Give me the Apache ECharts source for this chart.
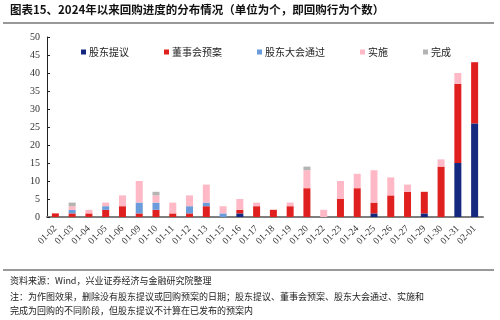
<!DOCTYPE html>
<html><head><meta charset="utf-8">
<script src="https://cdn.jsdelivr.net/npm/echarts@6/dist/echarts.min.js"></script>
<style>html,body{margin:0;padding:0;background:#fff}#c{width:500px;height:320px}</style>
</head><body><div id="c"></div>
<script>
const categories = ['01-02','01-03','01-04','01-05','01-06','01-09','01-10','01-11','01-12','01-13','01-15','01-16','01-17','01-18','01-19','01-20','01-22','01-23','01-24','01-25','01-26','01-27','01-29','01-30','01-31','02-01'];
const shareholderProposal = [0,0,0,0,0,0,0,0,0,0,0,1,0,0,0,0,0,0,0,1,0,0,1,0,15,26];
const boardPlan =           [1,1,1,2,3,1,2,1,1,3,0,1,3,2,3,8,0,5,8,3,6,7,6,14,22,17];
const meetingPassed =       [0,1,0,1,0,3,2,0,2,1,1,0,0,0,0,0,0,0,0,0,0,0,0,0,0,0];
const implementing =        [0,1,1,1,3,6,2,3,3,5,2,3,1,0,1,5,2,5,4,9,5,2,0,2,3,0];
const completed =           [0,1,0,0,0,0,1,0,0,0,0,0,0,0,0,1,0,0,0,0,0,0,0,0,0,0];
const yTicks = [0,5,10,15,20,25,30,35,40,45,50];
const seriesNames = ['股东提议','董事会预案','股东大会通过','实施','完成'];
const colors = ['#14287F','#E0201F','#6A9BDB','#FFB9C6','#B4B4B4'];

const chart = echarts.init(document.getElementById('c'), null, {renderer:'canvas'});
const data = [shareholderProposal, boardPlan, meetingPassed, implementing, completed];
const cjk = '"Liberation Serif","Noto Sans CJK SC",serif';
chart.setOption({
  animation:false,
  color: colors,
  textStyle:{fontFamily:cjk},
  grid:{left:47,right:17,top:37,bottom:103},
  legend:{
    top:42,left:76,itemWidth:5,itemHeight:5,itemGap:35,icon:'rect',
    textStyle:{fontSize:10,color:'#222',fontFamily:'"Noto Sans CJK SC",sans-serif',padding:[0,0,0,-2]},
    data: seriesNames
  },
  xAxis:{
    type:'category',data:categories,
    axisLine:{lineStyle:{color:'#7f7f7f',width:2}},
    axisTick:{show:false},
    axisLabel:{rotate:45,fontSize:9.5,color:'#333',margin:10,interval:0,fontFamily:'"Liberation Serif",serif'}
  },
  yAxis:{
    type:'value',min:yTicks[0],max:yTicks[yTicks.length-1],interval:5,
    splitLine:{show:false},
    axisLine:{show:true,lineStyle:{color:'#222',width:1}},
    axisTick:{show:true,inside:true,length:3,lineStyle:{color:'#222'}},
    axisLabel:{fontSize:10,color:'#333',margin:7,fontFamily:'"Liberation Serif",serif'}
  },
  series: seriesNames.map((n,i)=>({name:n,type:'bar',stack:'s',barWidth:7,data:data[i].map(v=>v===0?null:v)})),
  graphic:[
    {type:'text',left:10,top:4,style:{text:'图表15、2024年以来回购进度的分布情况（单位为个，即回购行为个数）',font:'bold 11.5px "Noto Sans CJK SC",sans-serif',fill:'#111'}},
    {type:'line',shape:{x1:3,y1:23,x2:494,y2:23},style:{stroke:'#333',lineWidth:1}},
    {type:'line',shape:{x1:3,y1:270,x2:494,y2:270},style:{stroke:'#333',lineWidth:1}},
    {type:'text',left:10,top:276,style:{text:'资料来源：Wind，兴业证券经济与金融研究院整理',font:'9px "Noto Sans CJK SC",sans-serif',fill:'#222'}},
    {type:'text',left:10,top:292,style:{text:'注：为作图效果，删除没有股东提议或回购预案的日期；股东提议、董事会预案、股东大会通过、实施和',font:'9px "Noto Sans CJK SC",sans-serif',fill:'#222'}},
    {type:'text',left:10,top:306,style:{text:'完成为回购的不同阶段，但股东提议不计算在已发布的预案内',font:'9px "Noto Sans CJK SC",sans-serif',fill:'#222'}}
  ]
});
</script></body></html>
